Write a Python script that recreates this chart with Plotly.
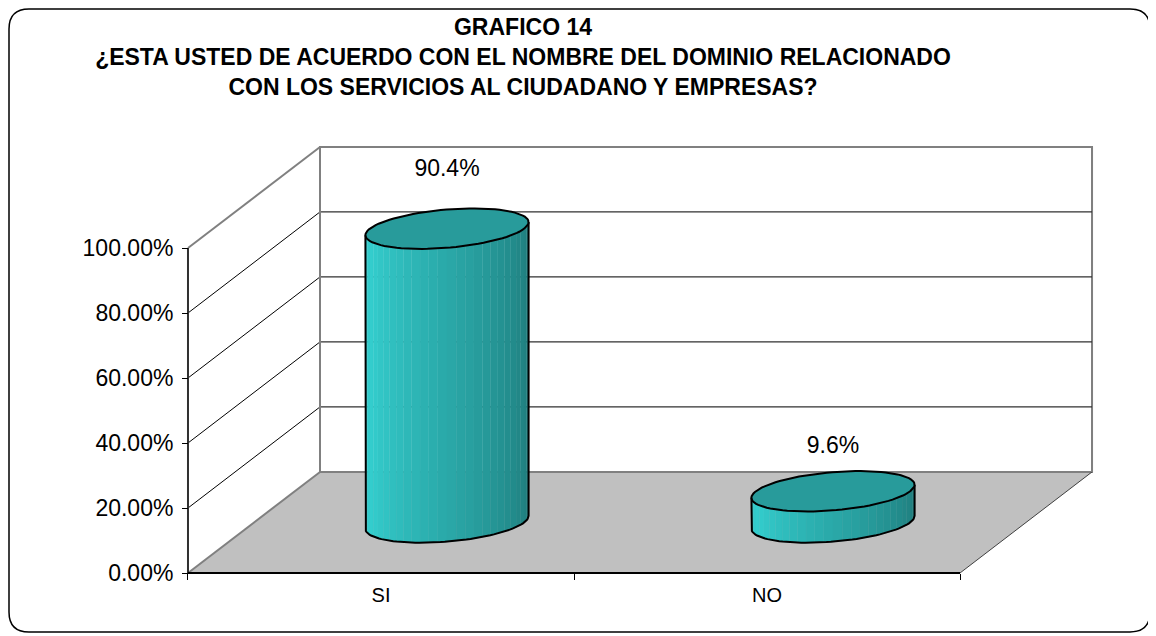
import numpy as np
import plotly.graph_objects as go

# ---------------- data ----------------
categories = ["SI", "NO"]
values = [0.904, 0.096]
value_labels = ["90.4%", "9.6%"]
y_ticks = [0.0, 0.2, 0.4, 0.6, 0.8, 1.0]
title_lines = [
    "GRAFICO 14",
    "¿ESTA USTED DE ACUERDO CON EL NOMBRE DEL DOMINIO RELACIONADO",
    "CON LOS SERVICIOS AL CIUDADANO Y EMPRESAS?",
]

# ---------------- style / projection ----------------
W, H = 1148, 628        # page body has an 8px margin
OFF = 8
FONT = "Arial, Liberation Sans, sans-serif"
DX, DY = 0.342, 0.311          # 3-D depth offset (x-units, y-units)
R = 0.2                         # cylinder radius (category units)
GRAY = "#808080"
FLOOR = "#C0C0C0"
TOP_COL = "#289B9B"
LIGHT = np.array([52, 206, 206])
DARK = np.array([30, 120, 120])


def fx(px):
    return (px - OFF) / W


def fy(py):
    return 1 - (py - OFF) / H


x_range = [-0.5466, 1.9404]
y_range = [-0.0369, 1.3477]
x_dom = [fx(170), fx(1130)]
y_dom = [fy(585), fy(135)]

fig = go.Figure()
shapes = []


def seg(x0, y0, x1, y1, color, width):
    shapes.append(dict(type="line", xref="x", yref="y", x0=x0, y0=y0, x1=x1, y1=y1,
                       line=dict(color=color, width=width), layer="below"))


xl, xr = -0.5, len(categories) - 0.5
top = y_ticks[-1]

# back wall
shapes.append(dict(type="rect", xref="x", yref="y", x0=xl + DX, y0=DY, x1=xr + DX, y1=top + DY,
                   fillcolor="white", line=dict(color=GRAY, width=2), layer="below"))
# floor
shapes.append(dict(type="path", xref="x", yref="y",
                   path=f"M{xl},0 L{xr},0 L{xr + DX},{DY} L{xl + DX},{DY} Z",
                   fillcolor=FLOOR, line=dict(width=0), layer="below"))
seg(xl, 0, xl + DX, DY, GRAY, 2)
seg(xl + DX, DY, xr + DX, DY, GRAY, 2)
seg(xr, 0, xr + DX, DY, "#404040", 1)
seg(xr + DX, DY, xr + DX, top + DY, GRAY, 2)
# gridlines (side wall diagonals + back wall horizontals)
for v in y_ticks[1:-1]:
    seg(xl, v, xl + DX, v + DY, "black", 1)
    seg(xl + DX, v + DY, xr + DX, v + DY, "#303030", 1.2)
seg(xl, top, xl + DX, top + DY, GRAY, 2)
seg(xl + DX, top + DY, xr + DX, top + DY, GRAY, 2)
seg(xl + DX, 0 + DY, xl + DX, top + DY, GRAY, 2)
# axis lines
seg(xl, 0, xl, top, "#303030", 2)
seg(xl, 0, xr, 0, "black", 2)

# chart border (rounded) in paper coords
bx0, bx1 = max(fx(6), 1 / W), fx(1150)
by0, by1 = fy(632), min(fy(5), 1 - 1 / H)
rx, ry = 20 / W, 20 / H
shapes.append(dict(type="path", xref="paper", yref="paper",
                   path=(f"M{bx0 + rx},{by1} L{bx1 - rx},{by1} Q{bx1},{by1} {bx1},{by1 - ry} "
                         f"L{bx1},{by0 + ry} Q{bx1},{by0} {bx1 - rx},{by0} "
                         f"L{bx0 + rx},{by0} Q{bx0},{by0} {bx0},{by0 + ry} "
                         f"L{bx0},{by1 - ry} Q{bx0},{by1} {bx0 + rx},{by1} Z"),
                   line=dict(color="black", width=1.5), fillcolor="rgba(0,0,0,0)", layer="above"))

# ---------------- cylinders ----------------
th0 = np.arctan(DX)
N = 28


def pt(cx, cy, th):
    return cx + R * np.cos(th) + R * DX * np.sin(th), cy + R * DY * np.sin(th)


for i, v in enumerate(values):
    cx = i + 0.5 * DX
    cb = 0.5 * DY
    ct = v + 0.5 * DY
    ths = np.linspace(th0 + np.pi, th0 + 2 * np.pi, N + 1)
    for k in range(N):
        a, b = ths[k], ths[k + 1]
        sub = np.linspace(a, b, 3)
        bx, by = pt(cx, cb, sub)
        tx, ty = pt(cx, ct, sub[::-1])
        t = (k + 0.5) / N
        if t < 0.12:
            s = 0.12 * (0.12 - t) / 0.12
        else:
            s = (t - 0.12) / 0.88
        c = LIGHT + (DARK - LIGHT) * s
        col = f"rgb({int(c[0])},{int(c[1])},{int(c[2])})"
        fig.add_trace(go.Scatter(x=list(bx) + list(tx), y=list(by) + list(ty), mode="lines",
                                 fill="toself", fillcolor=col, line=dict(color=col, width=0.6),
                                 hoverinfo="skip", showlegend=False))
    # outline of body
    arc = np.linspace(th0 + np.pi, th0 + 2 * np.pi, 60)
    bx, by = pt(cx, cb, arc)
    ltx, lty = pt(cx, ct, th0 + np.pi)
    rtx, rty = pt(cx, ct, th0 + 2 * np.pi)
    fig.add_trace(go.Scatter(x=[ltx] + list(bx) + [rtx], y=[lty] + list(by) + [rty], mode="lines",
                             line=dict(color="black", width=2), hoverinfo="skip", showlegend=False))
    # top ellipse
    full = np.linspace(0, 2 * np.pi, 90)
    ex, ey = pt(cx, ct, full)
    fig.add_trace(go.Scatter(x=ex, y=ey, mode="lines", fill="toself", fillcolor=TOP_COL,
                             line=dict(color="black", width=2), hoverinfo="skip", showlegend=False))

# data labels (placed above the back-top edge of each bar's 3-D box)
fig.add_trace(go.Scatter(
    x=[i + 0.5 * DX for i in range(len(values))],
    y=[v * 1.056 + DY - 0.025 for v in values],
    mode="text", text=value_labels, textposition="middle center",
    textfont=dict(family=FONT, size=23, color="black"),
    hoverinfo="skip", showlegend=False))

fig.update_layout(
    width=W, height=H,
    margin=dict(l=0, r=0, t=0, b=0),
    paper_bgcolor="white", plot_bgcolor="rgba(0,0,0,0)",
    shapes=shapes,
    title=dict(text="<b>" + "<br>".join(title_lines) + "</b>",
               x=fx(523), xanchor="center", y=fy(35), yanchor="middle",
               font=dict(family=FONT, size=23, color="black")),
    xaxis=dict(domain=x_dom, range=x_range, showgrid=False, zeroline=False, showline=False,
               anchor="free", position=fy(573),
               tickmode="array", tickvals=list(range(len(categories))), ticktext=categories,
               ticks="", ticklabelstandoff=8,
               tickfont=dict(family=FONT, size=20, color="black"),
               minor=dict(tickmode="linear", tick0=-0.5, dtick=1, ticks="outside",
                          ticklen=6, tickwidth=1, tickcolor="black", showgrid=False)),
    yaxis=dict(domain=y_dom, range=y_range, showgrid=False, zeroline=False, showline=False,
               anchor="free", position=fx(188),
               tickmode="array", tickvals=y_ticks, tickformat=".2%",
               ticks="outside", ticklen=6, tickwidth=1, tickcolor="black",
               ticklabelstandoff=4,
               tickfont=dict(family=FONT, size=23, color="black")),
)

fig.write_html("out.html")
